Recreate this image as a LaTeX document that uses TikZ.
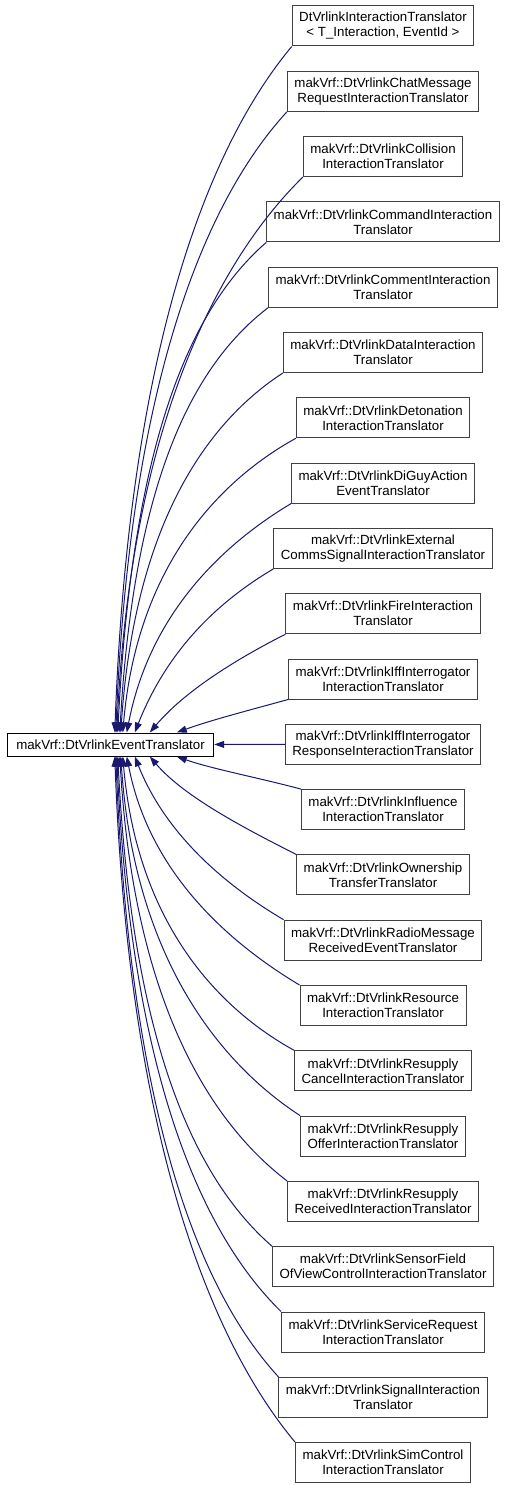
\documentclass[tikz,border=0pt]{standalone}
\usepackage{fontspec}
\setmainfont{Liberation Sans}
\usetikzlibrary{arrows.meta}
\definecolor{edgeblue}{RGB}{25,25,112}

\begin{document}
\begin{tikzpicture}[x=1pt,y=-1pt,line width=1pt,
	cls/.style={draw=black!75,fill=white,align=center,inner xsep=7pt,inner ysep=0pt,minimum height=40pt,font=\fontsize{13.3}{15}\selectfont},
	edge/.style={edgeblue,-{Triangle[length=10pt,width=7pt]}}]
\useasboundingbox (0,0) rectangle (509,1488);
\node [cls,draw=black,minimum height=23pt,inner xsep=9pt] (a) at (110.5,744.5) {makVrf::DtVrlinkEventTranslator};
\node [cls] (b) at (383,26) {DtVrlinkInteractionTranslator\\< T\_Interaction, EventId >};
\node [cls] (c) at (383,91.3) {makVrf::DtVrlinkChatMessage\\RequestInteractionTranslator};
\node [cls] (d) at (383,156.6) {makVrf::DtVrlinkCollision\\InteractionTranslator};
\node [cls] (e) at (383,221.9) {makVrf::DtVrlinkCommandInteraction\\Translator};
\node [cls] (f) at (383,287.2) {makVrf::DtVrlinkCommentInteraction\\Translator};
\node [cls] (g) at (383,352.5) {makVrf::DtVrlinkDataInteraction\\Translator};
\node [cls] (h) at (383,417.8) {makVrf::DtVrlinkDetonation\\InteractionTranslator};
\node [cls] (i) at (383,483.1) {makVrf::DtVrlinkDiGuyAction\\EventTranslator};
\node [cls] (j) at (383,548.4) {makVrf::DtVrlinkExternal\\CommsSignalInteractionTranslator};
\node [cls] (k) at (383,613.7) {makVrf::DtVrlinkFireInteraction\\Translator};
\node [cls] (l) at (383,679) {makVrf::DtVrlinkIffInterrogator\\InteractionTranslator};
\node [cls] (m) at (383,744.3) {makVrf::DtVrlinkIffInterrogator\\ResponseInteractionTranslator};
\node [cls] (n) at (383,809.6) {makVrf::DtVrlinkInfluence\\InteractionTranslator};
\node [cls] (o) at (383,874.9) {makVrf::DtVrlinkOwnership\\TransferTranslator};
\node [cls] (p) at (383,940.2) {makVrf::DtVrlinkRadioMessage\\ReceivedEventTranslator};
\node [cls] (q) at (383,1005.5) {makVrf::DtVrlinkResource\\InteractionTranslator};
\node [cls] (r) at (383,1070.8) {makVrf::DtVrlinkResupply\\CancelInteractionTranslator};
\node [cls] (s) at (383,1136.1) {makVrf::DtVrlinkResupply\\OfferInteractionTranslator};
\node [cls] (t) at (383,1201.4) {makVrf::DtVrlinkResupply\\ReceivedInteractionTranslator};
\node [cls] (u) at (383,1266.7) {makVrf::DtVrlinkSensorField\\OfViewControlInteractionTranslator};
\node [cls] (v) at (383,1332) {makVrf::DtVrlinkServiceRequest\\InteractionTranslator};
\node [cls] (w) at (383,1397.3) {makVrf::DtVrlinkSignalInteraction\\Translator};
\node [cls] (x) at (383,1462.6) {makVrf::DtVrlinkSimControl\\InteractionTranslator};
% edges above the base class
\foreach \n/\k/\ex in {b/1/113,c/2/114,d/3/115,e/4/116,f/5/118,g/6/119,h/7/121,i/8/125,j/9/133,k/10/148,l/11/175}{
	\pgfmathsetmacro\h{733-(26+65.3*(\k-1)+20)}
	\pgfmathsetmacro\w{285-\ex}
	\pgfmathsetmacro\t{min(1,\h/300)}
	\draw [edge] (\n.south west) .. controls +({-(0.33+0.17*\t)*\w},{(0.33-0.18*\t)*\h}) and +({(0.33-0.25*\t)*\w},{-(0.33+0.22*\t)*\h}) .. ([xshift=\ex pt-5pt]a.north west);
}
% edges below the base class
\foreach \n/\k/\ex in {n/13/175,o/14/148,p/15/133,q/16/125,r/17/121,s/18/119,t/19/118,u/20/116,v/21/115,w/22/114,x/23/113}{
	\pgfmathsetmacro\h{(26+65.3*(\k-1)-20)-756}
	\pgfmathsetmacro\w{285-\ex}
	\pgfmathsetmacro\t{min(1,\h/300)}
	\draw [edge] (\n.north west) .. controls +({-(0.33+0.17*\t)*\w},{-(0.33-0.18*\t)*\h}) and +({(0.33-0.25*\t)*\w},{(0.33+0.22*\t)*\h}) .. ([xshift=\ex pt-5pt]a.south west);
}
\draw [edge] (m) -- (a);
\end{tikzpicture}
\end{document}
